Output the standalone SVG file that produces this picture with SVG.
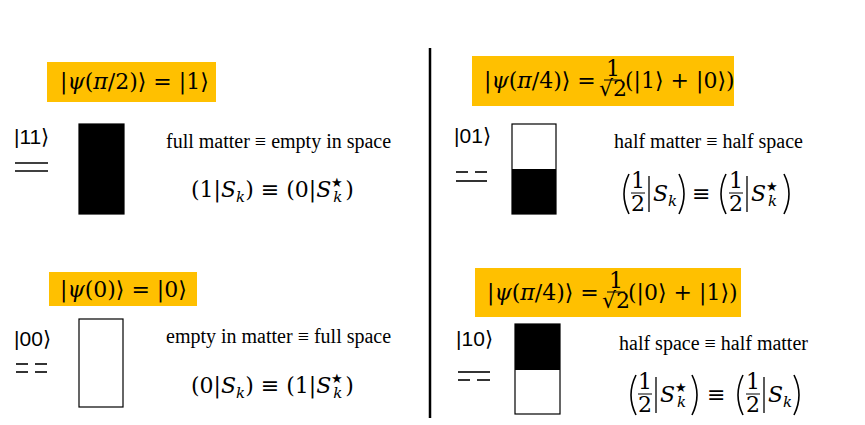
<svg xmlns="http://www.w3.org/2000/svg" width="865" height="425" viewBox="0 0 865 425">
<style>
.t{font-family:"Liberation Serif",serif;font-size:20px;fill:#000}
.m{font-family:"DejaVu Serif","Liberation Serif",serif;font-size:22px;fill:#000}
.k{font-family:"Liberation Sans",sans-serif;font-size:21px;fill:#000}
.i{font-style:italic}
.hl{fill:#ffc000}
.bx{stroke:#000;stroke-width:1.2}
.ln{stroke:#000;stroke-width:1.6}
.p{fill:none;stroke:#000;stroke-width:1.6}
.fb{stroke:#000;stroke-width:1}
</style>
<rect width="865" height="425" fill="#fff"/>
<g id="connectors"><line x1="430" y1="48" x2="430" y2="418" stroke="#000" stroke-width="2.5"/></g>
<g id="n1">
<rect class="hl" x="47" y="62" width="169" height="40"/>
<text class="m" x="60" y="89">|<tspan class="i">ψ</tspan>(<tspan class="i">π</tspan>/2)⟩ = |1⟩</text>
<text class="k" x="14" y="144">|11⟩</text>
<line class="ln" x1="15" y1="163" x2="48" y2="163"/><line class="ln" x1="15" y1="171" x2="48" y2="171"/>
<rect class="bx" x="79" y="124" width="45" height="90" fill="#000"/>
<text class="t" x="166" y="148">full matter ≡ empty in space</text>
<text class="m" x="191" y="197">(1|<tspan class="i">S</tspan><tspan class="i" font-size="15" dy="5">k</tspan><tspan dy="-5">) ≡ (0|</tspan><tspan class="i">S</tspan><tspan font-size="13" dy="-10">★</tspan><tspan class="i" font-size="15" dx="-10" dy="15">k</tspan><tspan dy="-5" dx="3">)</tspan></text>
</g>
<g id="n2">
<rect class="hl" x="49" y="272" width="148" height="34"/>
<text class="m" x="60" y="297">|<tspan class="i">ψ</tspan>(0)⟩ =  |0⟩</text>
<text class="k" x="14" y="346">|00⟩</text>
<line class="ln" x1="16" y1="364" x2="28" y2="364"/><line class="ln" x1="35" y1="364" x2="47" y2="364"/>
<line class="ln" x1="16" y1="372" x2="28" y2="372"/><line class="ln" x1="35" y1="372" x2="47" y2="372"/>
<rect class="bx" x="79" y="319" width="44" height="88" fill="#fff"/>
<text class="t" x="166" y="343">empty in matter ≡ full space</text>
<text class="m" x="191" y="393">(0|<tspan class="i">S</tspan><tspan class="i" font-size="15" dy="5">k</tspan><tspan dy="-5">) ≡ (1|</tspan><tspan class="i">S</tspan><tspan font-size="13" dy="-10">★</tspan><tspan class="i" font-size="15" dx="-10" dy="15">k</tspan><tspan dy="-5" dx="3">)</tspan></text>
</g>
<g id="n3">
<rect class="hl" x="472" y="56" width="262" height="50"/>
<text class="m" x="484" y="88" font-size="21">|<tspan class="i">ψ</tspan>(<tspan class="i">π</tspan>/4)⟩ =</text>
<text class="m" x="613" y="76" font-size="11" text-anchor="middle">1</text>
<line class="fb" x1="604" y1="80" x2="622" y2="80"/>
<text class="m" x="613" y="96" font-size="11" text-anchor="middle">√2</text>
<text class="m" x="625" y="88" font-size="21">(|1⟩ + |0⟩)</text>
<text class="k" x="454" y="143">|01⟩</text>
<line class="ln" x1="456" y1="172" x2="468" y2="172"/><line class="ln" x1="475" y1="172" x2="487" y2="172"/>
<line class="ln" x1="456" y1="181" x2="487" y2="181"/>
<rect class="bx" x="512" y="124" width="44" height="90" fill="#fff"/>
<rect x="512" y="169" width="44" height="45" fill="#000"/>
<text class="t" x="614" y="148">half matter ≡ half space</text>
<path class="p" d="M629 174 Q619 194 629 214"/>
<text class="m" x="638" y="188" font-size="19" text-anchor="middle">1</text><line class="fb" x1="631" y1="193" x2="645" y2="193"/><text class="m" x="638" y="211" font-size="19" text-anchor="middle">2</text>
<line x1="649" y1="176" x2="649" y2="212" stroke="#000" stroke-width="1.3"/>
<text class="m" x="653" y="201"><tspan class="i">S</tspan><tspan class="i" font-size="15" dy="5">k</tspan></text>
<path class="p" d="M679 174 Q689 194 679 214"/>
<text class="m" x="692" y="201">≡</text>
<path class="p" d="M726 174 Q716 194 726 214"/>
<text class="m" x="736" y="188" font-size="19" text-anchor="middle">1</text><line class="fb" x1="729" y1="193" x2="743" y2="193"/><text class="m" x="736" y="211" font-size="19" text-anchor="middle">2</text>
<line x1="747" y1="176" x2="747" y2="212" stroke="#000" stroke-width="1.3"/>
<text class="m" x="751" y="201"><tspan class="i">S</tspan><tspan font-size="13" dy="-10">★</tspan><tspan class="i" font-size="15" dx="-10" dy="15">k</tspan></text>
<path class="p" d="M784 174 Q794 194 784 214"/>
</g>
<g id="n4">
<rect class="hl" x="475" y="268" width="266" height="49"/>
<text class="m" x="487" y="300" font-size="21">|<tspan class="i">ψ</tspan>(<tspan class="i">π</tspan>/4)⟩ =</text>
<text class="m" x="616" y="288" font-size="11" text-anchor="middle">1</text>
<line class="fb" x1="607" y1="292" x2="625" y2="292"/>
<text class="m" x="616" y="308" font-size="11" text-anchor="middle">√2</text>
<text class="m" x="628" y="300" font-size="21">(|0⟩ + |1⟩)</text>
<text class="k" x="456" y="346">|10⟩</text>
<line class="ln" x1="458" y1="372" x2="490" y2="372"/>
<line class="ln" x1="458" y1="380" x2="470" y2="380"/><line class="ln" x1="477" y1="380" x2="490" y2="380"/>
<rect class="bx" x="515" y="324" width="45" height="90" fill="#fff"/>
<rect x="515" y="324" width="45" height="46" fill="#000"/>
<text class="t" x="619" y="350">half space ≡ half matter</text>
<path class="p" d="M636 375 Q626 395 636 415"/>
<text class="m" x="645" y="389" font-size="19" text-anchor="middle">1</text><line class="fb" x1="638" y1="394" x2="652" y2="394"/><text class="m" x="645" y="412" font-size="19" text-anchor="middle">2</text>
<line x1="656" y1="377" x2="656" y2="413" stroke="#000" stroke-width="1.3"/>
<text class="m" x="660" y="402"><tspan class="i">S</tspan><tspan font-size="13" dy="-10">★</tspan><tspan class="i" font-size="15" dx="-10" dy="15">k</tspan></text>
<path class="p" d="M692 375 Q702 395 692 415"/>
<text class="m" x="707" y="402">≡</text>
<path class="p" d="M743 375 Q733 395 743 415"/>
<text class="m" x="753" y="389" font-size="19" text-anchor="middle">1</text><line class="fb" x1="746" y1="394" x2="760" y2="394"/><text class="m" x="753" y="412" font-size="19" text-anchor="middle">2</text>
<line x1="764" y1="377" x2="764" y2="413" stroke="#000" stroke-width="1.3"/>
<text class="m" x="768" y="402"><tspan class="i">S</tspan><tspan class="i" font-size="15" dy="5">k</tspan></text>
<path class="p" d="M794 375 Q804 395 794 415"/>
</g>
</svg>
